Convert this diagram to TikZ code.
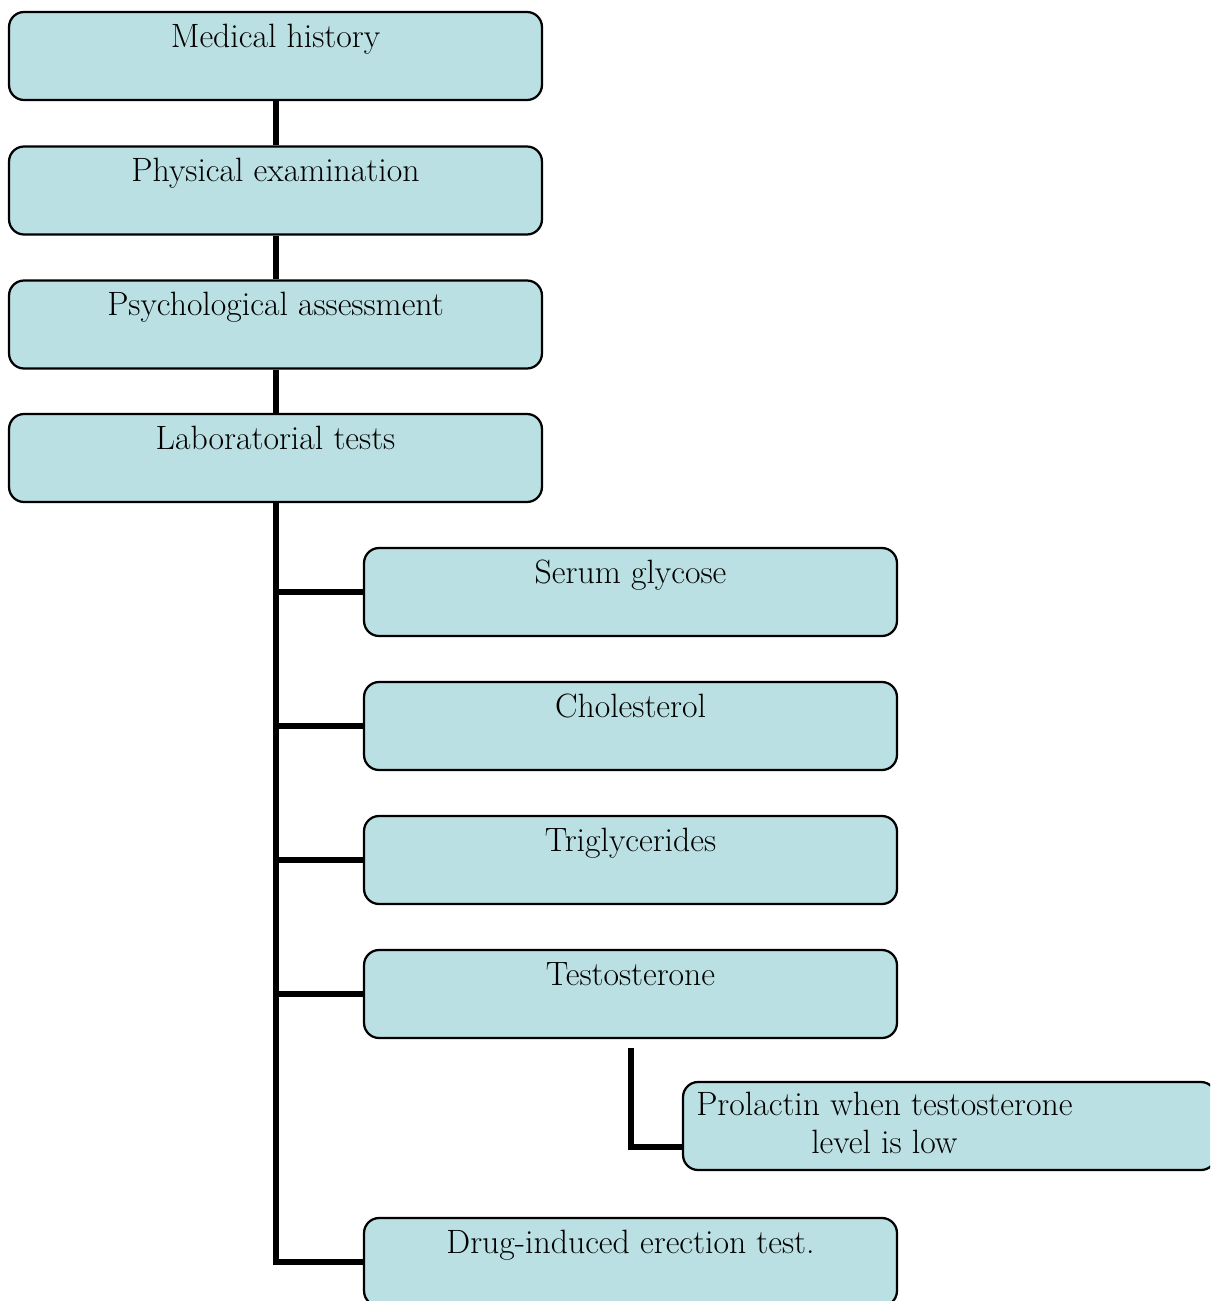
\documentclass[tikz,border=0pt]{standalone}
\usepackage{tikz}
\usetikzlibrary{positioning}
\definecolor{boxfill}{RGB}{186,224,227}
\tikzset{
  stepbox/.style={draw, fill=boxfill, line width=0.045cm, rounded corners=0.3cm,
    minimum width=10.66cm, minimum height=1.76cm, inner sep=0pt,
    text height=0.7cm, text depth=1.06cm, font=\fontsize{19.2}{21.5}\selectfont},
  link/.style={line width=0.12cm, line join=miter}
}

\begin{document}
\begin{tikzpicture}[x=0.02cm, y=-0.02cm]
	\clip (0,0) rectangle (1210,1301);
	\node[stepbox] (history) at (275.5,56) {Medical history};
	\node[stepbox] (exam) at (275.5,190.5) {Physical examination};
	\node[stepbox] (psych) at (275.5,324.5) {Psychological assessment};
	\node[stepbox] (lab) at (275.5,458) {Laboratorial tests};
	\node[stepbox] (serum) at (630.5,592) {Serum glycose};
	\node[stepbox] (chol) at (630.5,726) {Cholesterol};
	\node[stepbox] (trig) at (630.5,860) {Triglycerides};
	\node[stepbox] (testo) at (630.5,994) {Testosterone};
	\node[stepbox, label={[anchor=north west, align=center, inner sep=0pt,
	    xshift=0.28cm, yshift=-0.22cm, font=\fontsize{19.2}{21.5}\selectfont]north west:Prolactin when testosterone\\level is low}]
	  (prolactin) at (949.5,1126) {};
	\node[stepbox] (drug) at (630.5,1262) {Drug-induced erection test.};
	\coordinate (testoend) at (631,1048);
	\coordinate (prolend) at (683,1147);
	%
	\draw [link] (history) -- (exam);
	\draw [link] (exam) -- (psych);
	\draw [link] (psych) -- (lab);
	\draw [link] (lab.south) |- (serum.west);
	\draw [link] (lab.south) |- (chol.west);
	\draw [link] (lab.south) |- (trig.west);
	\draw [link] (lab.south) |- (testo.west);
	\draw [link] (lab.south) |- (drug.west);
	\draw [link] (testoend) |- (prolend);
\end{tikzpicture}
\end{document}
